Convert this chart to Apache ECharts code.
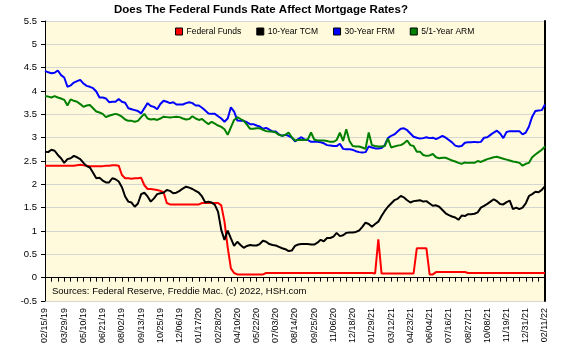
<!DOCTYPE html>
<html>
<head>
<meta charset="utf-8">
<script src="https://cdn.jsdelivr.net/npm/echarts@6/dist/echarts.min.js"></script>
<style>
html, body { margin: 0; padding: 0; background: #fff; }
#chart { width: 580px; height: 350px; }
</style>
</head>
<body>
<div id="chart"></div>
<script>
// weekly, 02/15/19 .. 02/11/22
var startDate = '2019-02-15';
var weekCount = 157;

var fedFunds = [
	2.40,2.40,2.40,2.40,2.40,2.40,2.40,2.40,2.40,2.40,
	2.41,2.42,2.41,2.40,2.39,2.39,2.39,2.39,2.39,2.40,
	2.40,2.41,2.41,2.40,2.20,2.13,2.13,2.12,2.13,2.13,
	2.14,1.98,1.90,1.90,1.89,1.88,1.86,1.83,1.60,1.57,
	1.57,1.57,1.57,1.57,1.57,1.57,1.57,1.57,1.57,1.60,
	1.60,1.60,1.60,1.60,1.60,1.55,1.20,0.65,0.20,0.10,
	0.07,0.07,0.07,0.07,0.07,0.07,0.07,0.07,0.07,0.10,
	0.10,0.10,0.10,0.10,0.10,0.10,0.10,0.10,0.10,0.10,
	0.10,0.10,0.10,0.10,0.10,0.10,0.10,0.10,0.10,0.10,
	0.10,0.10,0.10,0.10,0.10,0.10,0.10,0.10,0.10,0.10,
	0.10,0.10,0.10,0.09,0.82,0.09,0.09,0.09,0.09,0.09,
	0.09,0.09,0.09,0.09,0.09,0.09,0.63,0.63,0.63,0.63,
	0.07,0.07,0.12,0.12,0.12,0.12,0.12,0.12,0.12,0.12,
	0.12,0.12,0.10,0.10,0.10,0.10,0.10,0.10,0.10,0.10,
	0.10,0.10,0.10,0.10,0.10,0.10,0.10,0.10,0.10,0.10,
	0.10,0.10,0.10,0.10,0.10,0.10,0.10
];
var tcm10 = [
	2.70,2.69,2.74,2.72,2.63,2.56,2.46,2.54,2.56,2.61,
	2.58,2.54,2.46,2.39,2.36,2.25,2.13,2.14,2.08,2.04,
	2.04,2.13,2.11,2.06,1.94,1.74,1.63,1.61,1.52,1.59,
	1.79,1.82,1.74,1.63,1.70,1.79,1.81,1.82,1.88,1.86,
	1.81,1.82,1.86,1.91,1.95,1.93,1.90,1.86,1.82,1.74,
	1.61,1.63,1.61,1.56,1.41,1.02,0.81,1.01,0.84,0.68,
	0.77,0.70,0.64,0.68,0.70,0.69,0.69,0.72,0.79,0.77,
	0.72,0.70,0.69,0.66,0.63,0.61,0.57,0.58,0.68,0.71,
	0.72,0.72,0.72,0.71,0.71,0.75,0.81,0.78,0.85,0.85,
	0.88,0.96,0.89,0.91,0.96,0.97,0.97,0.98,1.01,1.09,
	1.18,1.15,1.09,1.15,1.20,1.32,1.43,1.52,1.59,1.66,
	1.69,1.75,1.72,1.66,1.61,1.64,1.65,1.66,1.63,1.64,
	1.59,1.54,1.55,1.52,1.45,1.38,1.34,1.31,1.29,1.24,
	1.33,1.32,1.36,1.36,1.37,1.40,1.50,1.54,1.58,1.63,
	1.68,1.64,1.58,1.57,1.62,1.65,1.47,1.50,1.47,1.50,
	1.59,1.75,1.79,1.84,1.83,1.88,1.96
];
var frm30 = [
	4.43,4.40,4.38,4.39,4.44,4.34,4.29,4.09,4.12,4.18,
	4.21,4.24,4.16,4.11,4.09,4.06,3.99,3.86,3.86,3.84,
	3.76,3.77,3.77,3.83,3.77,3.75,3.63,3.61,3.59,3.57,
	3.52,3.63,3.74,3.68,3.66,3.61,3.72,3.79,3.77,3.74,
	3.76,3.71,3.71,3.71,3.74,3.76,3.74,3.69,3.69,3.64,
	3.58,3.52,3.51,3.51,3.46,3.41,3.34,3.41,3.65,3.56,
	3.37,3.36,3.36,3.33,3.29,3.29,3.26,3.24,3.19,3.21,
	3.17,3.13,3.13,3.07,3.04,3.06,3.04,3.00,2.92,2.97,
	3.01,2.96,2.95,2.91,2.91,2.91,2.90,2.88,2.84,2.83,
	2.82,2.82,2.87,2.76,2.75,2.75,2.74,2.71,2.69,2.68,
	2.69,2.81,2.79,2.77,2.77,2.78,2.84,2.99,3.04,3.07,
	3.13,3.19,3.20,3.16,3.09,3.02,3.00,2.98,2.99,3.01,
	2.99,3.00,2.97,3.00,3.04,3.00,2.95,2.90,2.83,2.81,
	2.82,2.89,2.90,2.90,2.91,2.90,2.91,3.00,3.01,3.06,
	3.11,3.15,3.09,2.99,3.12,3.14,3.14,3.14,3.14,3.07,
	3.11,3.24,3.45,3.57,3.58,3.59,3.71
];
var arm51 = [
	3.89,3.88,3.86,3.89,3.86,3.84,3.81,3.69,3.82,3.79,
	3.77,3.72,3.66,3.69,3.70,3.63,3.56,3.54,3.51,3.44,
	3.47,3.49,3.51,3.49,3.45,3.39,3.36,3.36,3.34,3.36,
	3.44,3.51,3.41,3.39,3.40,3.38,3.41,3.45,3.44,3.43,
	3.44,3.45,3.44,3.41,3.39,3.40,3.46,3.41,3.38,3.40,
	3.34,3.29,3.34,3.30,3.26,3.23,3.18,3.06,3.22,3.38,
	3.44,3.40,3.36,3.28,3.19,3.19,3.20,3.20,3.17,3.14,
	3.13,3.13,3.11,3.06,3.04,3.06,3.11,3.01,2.94,2.95,
	2.95,2.95,2.96,3.11,2.96,2.94,2.94,2.94,2.93,2.91,
	2.91,2.95,3.11,2.93,3.18,2.93,2.82,2.81,2.81,2.79,
	2.76,3.11,2.84,2.82,2.81,2.81,2.82,2.98,2.79,2.81,
	2.83,2.84,2.88,2.94,2.84,2.82,2.70,2.70,2.63,2.61,
	2.62,2.65,2.58,2.56,2.57,2.57,2.54,2.51,2.49,2.46,
	2.44,2.47,2.46,2.46,2.46,2.50,2.48,2.51,2.54,2.56,
	2.58,2.59,2.57,2.55,2.53,2.51,2.49,2.48,2.46,2.40,
	2.44,2.46,2.58,2.64,2.69,2.74,2.81
];
var seriesNames = ['Federal Funds', '10-Year TCM', '30-Year FRM', '5/1-Year ARM'];
var seriesColors = ['#ff0000', '#000000', '#0000ff', '#008000'];

function pad2(n) { return (n < 10 ? '0' : '') + n; }
var weeks = [];
var t0 = Date.parse(startDate + 'T00:00:00Z');
for (var i = 0; i < weekCount; i++) {
	var d = new Date(t0 + i * 7 * 86400000);
	weeks.push(pad2(d.getUTCMonth() + 1) + '/' + pad2(d.getUTCDate()) + '/' + pad2(d.getUTCFullYear() % 100));
}

var FONT = "'Liberation Sans', Arial, sans-serif";
var dom = document.getElementById('chart');
var myChart = echarts.init(dom);
var allData = [fedFunds, tcm10, frm30, arm51];
var series = [];
for (var k = 0; k < allData.length; k++) {
	series.push({
		name: seriesNames[k],
		type: 'line',
		data: allData[k],
		symbol: 'none',
		smooth: false,
		itemStyle: { color: seriesColors[k] },
		lineStyle: { color: seriesColors[k], width: 2 }
	});
}

var option = {
	animation: false,
	backgroundColor: '#ffffff',
	title: {
		text: 'Does The Federal Funds Rate Affect Mortgage Rates?',
		left: 114,
		top: 4,
		padding: 0,
		textStyle: { fontFamily: FONT, fontSize: 11.5, fontWeight: 'bold', color: '#000' }
	},
	legend: {
		data: seriesNames,
		left: 175,
		top: 27,
		padding: 0,
		itemGap: 15,
		itemWidth: 7,
		itemHeight: 7,
		icon: 'rect',
		itemStyle: { borderColor: '#000', borderWidth: 1 },
		textStyle: { fontFamily: FONT, fontSize: 8.5, color: '#000', padding: [0, 0, 0, -1] }
	},
	grid: {
		left: 45, right: 35, top: 21, bottom: 49,
		show: true,
		backgroundColor: '#fffadc',
		borderWidth: 0
	},
	graphic: [{
		type: 'text',
		left: 52,
		top: 286,
		style: {
			text: 'Sources: Federal Reserve, Freddie Mac. (c) 2022, HSH.com',
			font: '9.5px ' + FONT,
			fill: '#000'
		}
	}],
	xAxis: {
		type: 'category',
		data: weeks,
		boundaryGap: false,
		axisLine: { lineStyle: { color: '#000', width: 1 } },
		axisTick: { interval: 1, length: 4, lineStyle: { color: '#000' } },
		axisLabel: {
			interval: 5,
			rotate: 90,
			margin: 7,
			fontFamily: FONT,
			fontSize: 9,
			color: '#000'
		},
		splitLine: { show: false }
	},
	yAxis: [{
		type: 'value',
		min: -0.5,
		max: 5.5,
		interval: 0.5,
		axisLine: { show: true, lineStyle: { color: '#000', width: 1 } },
		axisTick: { show: true, length: 4, lineStyle: { color: '#000' } },
		axisLabel: { fontFamily: FONT, fontSize: 9.5, color: '#000', margin: 8 },
		splitLine: { show: true, lineStyle: { color: '#d6d6d0', width: 1 } }
	}, {
		type: 'value',
		position: 'right',
		min: -0.5,
		max: 5.5,
		interval: 0.5,
		axisLine: { show: true, lineStyle: { color: '#000', width: 2 } },
		axisTick: { show: false },
		axisLabel: { show: false },
		splitLine: { show: false }
	}],
	series: series
};
if (option && typeof option === 'object') {
	myChart.setOption(option, true);
}
</script>
</body>
</html>
